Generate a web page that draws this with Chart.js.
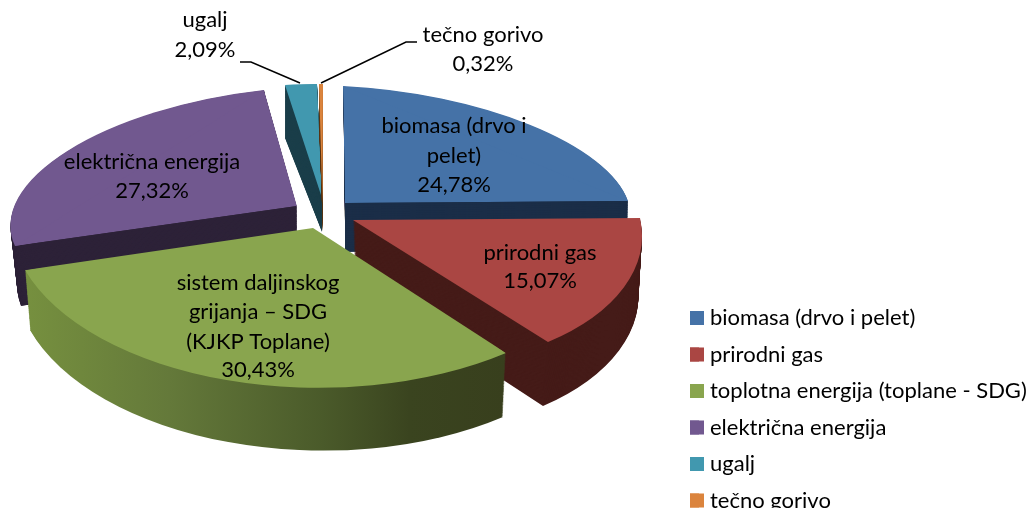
<!DOCTYPE html>
<html><head><meta charset="utf-8">
<style>html,body{margin:0;padding:0;background:#fff;overflow:hidden}canvas{display:block}</style>
<script src="https://cdn.jsdelivr.net/npm/chart.js@4"></script>
</head><body><canvas id="c" width="1033" height="508"></canvas>
<script>
const categories = ["biomasa (drvo i pelet)","prirodni gas","toplotna energija (toplane - SDG)","električna energija","ugalj","tečno gorivo"];
const shares = [24.78,15.07,30.43,27.32,2.09,0.32];
const topColors = ["#4572a7","#aa4643","#89a54e","#71588f","#4198af","#db843d"];
const wallColors = ["#1b2e48","#451b18",null,"#2d2238","#1b3f4a","#5d3a1a"];
const greenWallStops = [[0,"#76903f"],[0.3,"#64793a"],[0.62,"#4a5a2a"],[0.8,"#3a441f"],[1,"#383f1d"]];
const greenWallSpan = [25,506];
const FONT = "Lato";
const FS = 22;
// projected corners of each exploded slice: [apex, start-edge rim, end-edge rim]
const rimTop = [
 [[345,203],[343,86],[628,201]],
 [[353,220],[640,218],[548,342]],
 [[313,228],[506,353],[25,270]],
 [[297,206],[15,246],[264,90]],
 [[322,198],[285,85],[317,84]],
 [[322.5,203],[319,84],[323,84]]
];
const rimBottom = [
 [[345,252],[345,130],[627,250]],
 [[355,283],[637,280],[543,406]],
 [[313,290],[503,417],[30,330]],
 [[297,265],[21,306],[268,130]],
 [[322,232],[285,138],[317,120]],
 [[323,232],[319,120],[323,120]]
];
// perspective correction: flattens (+) or deepens (-) the rim curve of each slice
const rimFlatten = [0.22,0,-0.12,0.14,0,0];
const paintOrder = [0,3,4,5,1,2];
const layers = 70;
const dataLabels = [
 {lines:["biomasa (drvo i","pelet)","24,78%"],x:454,y:[133,163,192]},
 {lines:["prirodni gas","15,07%"],x:540,y:[260,288]},
 {lines:["sistem daljinskog","grijanja – SDG","(KJKP Toplane)","30,43%"],x:258,y:[290,319,349,377]},
 {lines:["električna energija","27,32%"],x:152,y:[169,198]},
 {lines:["ugalj","2,09%"],x:205,y:[27,57]},
 {lines:["tečno gorivo","0,32%"],x:483,y:[42,71]}
];
const leaders = [
 [[240,62],[251,62],[300,83]],
 [[321,83],[406,42],[417,42]]
];
const legendBox = {x:690,firstY:311,step:36.5,size:14};

const lerp=(a,b,t)=>[a[0]+(b[0]-a[0])*t,a[1]+(b[1]-a[1])*t];

function drawMapped(ctx,el,ap,p1,p2,useGradient){
 const R=el.outerRadius;
 const u1=[R*Math.cos(el.startAngle),R*Math.sin(el.startAngle)];
 const u2=[R*Math.cos(el.endAngle),R*Math.sin(el.endAngle)];
 const det=u1[0]*u2[1]-u2[0]*u1[1];
 const v1=[p1[0]-ap[0],p1[1]-ap[1]], v2=[p2[0]-ap[0],p2[1]-ap[1]];
 const a=(v1[0]*u2[1]-v2[0]*u1[1])/det, c=(v2[0]*u1[0]-v1[0]*u2[0])/det;
 const b=(v1[1]*u2[1]-v2[1]*u1[1])/det, d=(v2[1]*u1[0]-v1[1]*u2[0])/det;
 ctx.save();
 ctx.transform(a,b,c,d,ap[0],ap[1]);
 ctx.translate(-el.x,-el.y);
 const base=el.options;
 if(useGradient){
  // horizontal shading fixed in device space, expressed in the slice's local space
  const inv=ctx.getTransform().inverse();
  const s=inv.transformPoint({x:greenWallSpan[0],y:300}), e=inv.transformPoint({x:greenWallSpan[1],y:300});
  const ds=inv.transformPoint({x:greenWallSpan[0],y:301});
  // gradient normal must stay perpendicular to device-vertical lines
  const dx=ds.x-s.x, dy=ds.y-s.y, ex=e.x-s.x, ey=e.y-s.y;
  const tt=(ex*dx+ey*dy)/(dx*dx+dy*dy);
  const fill=ctx.createLinearGradient(s.x,s.y,e.x-tt*dx,e.y-tt*dy);
  greenWallStops.forEach(q=>fill.addColorStop(q[0],q[1]));
  el.options=Object.create(base,{backgroundColor:{value:fill}});
 }
 el.draw(ctx);
 el.options=base;
 ctx.restore();
}
function polyClip(ctx,pts){
 ctx.beginPath();
 pts.forEach((p,j)=>j?ctx.lineTo(p[0],p[1]):ctx.moveTo(p[0],p[1]));
 ctx.closePath();ctx.clip();
}

const pie3d = {
 id:'pie3d',
 afterLayout(chart){
  const lg=chart.legend, pad=lg.options.labels.padding;
  const w=lg.width;
  lg.left=legendBox.x-pad; lg.right=lg.left+w;
  lg.top=legendBox.firstY-4-pad;
  lg.bottom=lg.top+lg.height;
 },
 beforeDatasetsDraw(chart){
  const ctx=chart.ctx, meta=chart.getDatasetMeta(0);
  paintOrder.forEach(i=>{
   const el=meta.data[i];
   const saved=el.options, s=rimFlatten[i];
   for(let k=layers;k>=0;k--){
    const t=k/layers;
    const ap=lerp(rimTop[i][0],rimBottom[i][0],t);
    const p1=lerp(rimTop[i][1],rimBottom[i][1],t);
    const p2=lerp(rimTop[i][2],rimBottom[i][2],t);
    const grad=k>0&&!wallColors[i];
    const fill=(k>0&&wallColors[i])?wallColors[i]:saved.backgroundColor;
    el.options=Object.create(saved,{backgroundColor:{value:fill}});
    const mid=[(p1[0]+p2[0])/2,(p1[1]+p2[1])/2];
    const va=lerp(ap,mid,s);
    if(s>0){
     drawMapped(ctx,el,va,p1,p2,grad);
     ctx.save();polyClip(ctx,[ap,p1,p2]);drawMapped(ctx,el,ap,p1,p2,grad);ctx.restore();
    }else if(s<0){
     const far=q=>[ap[0]+(q[0]-ap[0])*3,ap[1]+(q[1]-ap[1])*3];
     ctx.save();polyClip(ctx,[ap,far(p1),far(p2)]);drawMapped(ctx,el,va,p1,p2,grad);ctx.restore();
    }else{
     drawMapped(ctx,el,ap,p1,p2,grad);
    }
   }
   el.options=saved;
  });
  return false;
 },
 afterDraw(chart){
  const ctx=chart.ctx;
  ctx.save();
  ctx.strokeStyle="#000";ctx.lineWidth=1.5;
  leaders.forEach(l=>{ctx.beginPath();l.forEach((p,j)=>j?ctx.lineTo(p[0],p[1]):ctx.moveTo(p[0],p[1]));ctx.stroke();});
  ctx.fillStyle="#000";ctx.font=FS+"px "+FONT;ctx.textAlign="center";ctx.textBaseline="alphabetic";
  dataLabels.forEach(d=>d.lines.forEach((s,j)=>ctx.fillText(s,d.x,d.y[j])));
  topColors.forEach((col,i)=>{ctx.fillStyle=col;ctx.fillRect(legendBox.x,legendBox.firstY+i*legendBox.step,legendBox.size,legendBox.size);});
  ctx.restore();
 }
};

new Chart(document.getElementById('c'),{
 type:'pie',
 data:{labels:categories,datasets:[{data:shares,backgroundColor:topColors,borderWidth:0,radius:100}]},
 options:{
  responsive:false,animation:false,
  events:[],
  plugins:{
   tooltip:{enabled:false},
   legend:{display:true,position:'chartArea',align:'start',
    labels:{boxWidth:9,boxHeight:14,padding:14.5,color:"#000",font:{family:FONT,size:FS}}}
  }
 },
 plugins:[pie3d]
});
</script></body></html>
